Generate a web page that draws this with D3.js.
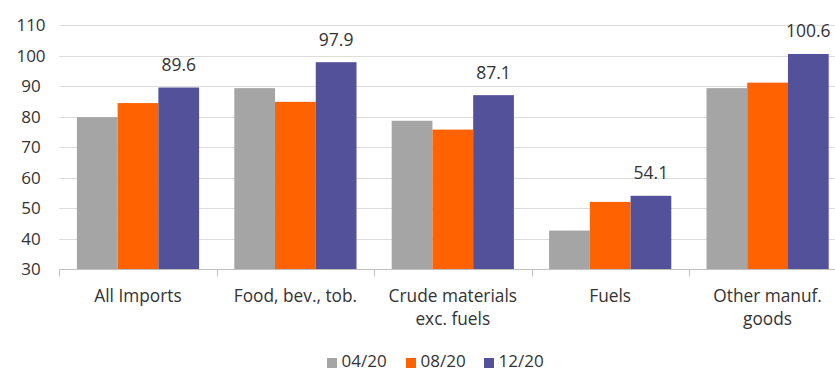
<!DOCTYPE html>
<html>
<head>
<meta charset="utf-8">
<script src="https://cdn.jsdelivr.net/npm/d3@7"></script>
<style>
  html, body { margin: 0; padding: 0; background: #fff; overflow: hidden; }
  svg { display: block; font-family: "Open Sans", sans-serif; }
</style>
</head>
<body>
<svg id="chart" width="835" height="371"></svg>
<script>
// Import price index by product group
const categories = [
  ["All Imports"],
  ["Food, bev., tob."],
  ["Crude materials", "exc. fuels"],
  ["Fuels"],
  ["Other manuf.", "goods"]
];
const seriesNames = ["04/20", "08/20", "12/20"];
const seriesColors = ["#a5a5a5", "#ff6200", "#53519a"];
const values0420 = [79.9, 89.4, 78.7, 42.7, 89.4];
const values0820 = [84.5, 84.9, 75.8, 52.1, 91.2];
const values1220 = [89.6, 97.9, 87.1, 54.1, 100.6];
const yTicks = [30, 40, 50, 60, 70, 80, 90, 100, 110];

const series = [values0420, values0820, values1220];
const catKeys = categories.map(c => c.join(" "));

const svg = d3.select("#chart");
const W = 835, H = 371;

const y = d3.scaleLinear().domain([30, 110]).range([269.3, 25.3]);
const x = d3.scaleBand().domain(catKeys).range([59.3, 59.3 + 5 * 157.4]).padding(0);
const xs = d3.scaleBand().domain(seriesNames)
  .range([17.6, x.bandwidth() - 17.6]).padding(0);

// Horizontal gridlines
svg.append("g")
  .selectAll("line")
  .data(yTicks.filter(t => t > 30))
  .join("line")
  .attr("x1", x.range()[0]).attr("x2", W)
  .attr("y1", d => Math.round(y(d)) + 0.5).attr("y2", d => Math.round(y(d)) + 0.5)
  .attr("stroke", "#dcdcdc").attr("stroke-width", 1);

// Y-axis labels (centred in the left margin)
svg.append("g")
  .selectAll("text")
  .data(yTicks)
  .join("text")
  .attr("x", 31).attr("y", d => y(d))
  .attr("dy", "0.35em")
  .attr("text-anchor", "middle")
  .attr("font-size", 17)
  .attr("fill", "#333")
  .text(d => d);

// Bars
const groups = svg.append("g")
  .selectAll("g")
  .data(catKeys)
  .join("g")
  .attr("transform", d => `translate(${x(d)},0)`);

groups.selectAll("rect")
  .data((d, i) => seriesNames.map((s, j) => ({ s, j, v: series[j][i] })))
  .join("rect")
  .attr("x", d => xs(d.s))
  .attr("width", xs.bandwidth())
  .attr("y", d => y(d.v))
  .attr("height", d => y(30) - y(d.v))
  .attr("fill", d => seriesColors[d.j]);

// Value labels over the latest series
groups.append("text")
  .attr("x", xs("12/20") + xs.bandwidth() / 2)
  .attr("y", (d, i) => y(values1220[i]) - 16.5)
  .attr("text-anchor", "middle")
  .attr("font-size", 17.5)
  .attr("fill", "#333")
  .text((d, i) => values1220[i].toFixed(1));

// X axis
const xAxis = d3.axisBottom(x).tickSize(0).tickFormat("");
const axisG = svg.append("g")
  .attr("transform", `translate(0,${Math.round(y(30)) + 0.5})`)
  .call(xAxis);
axisG.select(".domain").attr("stroke", "#bfbfbf").attr("d", `M${x.range()[0]},0H${W}`);
axisG.selectAll(".tick").remove();
axisG.selectAll("line.sep")
  .data(catKeys)
  .join("line")
  .attr("class", "sep")
  .attr("x1", d => Math.round(x(d)) + 0.5).attr("x2", d => Math.round(x(d)) + 0.5)
  .attr("y1", 0).attr("y2", 7)
  .attr("stroke", "#bfbfbf");

// Category labels
const catLabels = svg.append("g")
  .selectAll("text")
  .data(categories)
  .join("text")
  .attr("x", (d, i) => x(catKeys[i]) + x.bandwidth() / 2)
  .attr("y", 301.7)
  .attr("text-anchor", "middle")
  .attr("font-size", 17.3)
  .attr("fill", "#333");
catLabels.selectAll("tspan")
  .data(d => d)
  .join("tspan")
  .attr("x", function () { return d3.select(this.parentNode).attr("x"); })
  .attr("dy", (d, i) => i === 0 ? 0 : 23.5)
  .text(d => d);

// Legend
const legendX = [327, 406, 484];
const legend = svg.append("g")
  .selectAll("g")
  .data(seriesNames)
  .join("g")
  .attr("transform", (d, i) => `translate(${legendX[i]},0)`);
legend.append("rect")
  .attr("x", 0).attr("y", 358)
  .attr("width", 10).attr("height", 10)
  .attr("fill", (d, i) => seriesColors[i]);
legend.append("text")
  .attr("x", 14.5).attr("y", 366.5)
  .attr("font-size", 17)
  .attr("fill", "#333")
  .text(d => d);
</script>
</body>
</html>
